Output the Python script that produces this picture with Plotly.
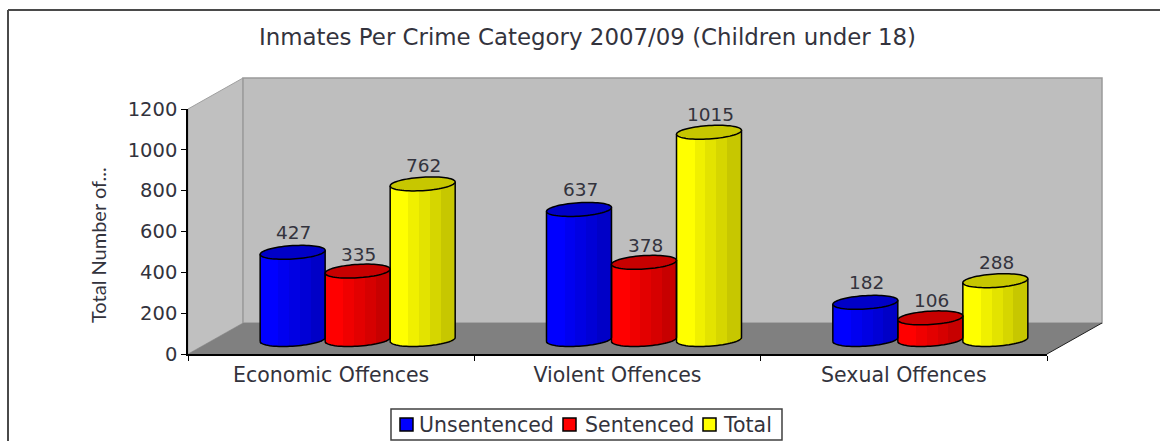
import math
import plotly.graph_objects as go

# ---- data ----
categories = ["Economic Offences", "Violent Offences", "Sexual Offences"]
unsentenced = [427, 637, 182]
sentenced = [335, 378, 106]
total = [762, 1015, 288]
series_names = ["Unsentenced", "Sentenced", "Total"]
y_ticks = [0, 200, 400, 600, 800, 1000, 1200]
title_text = "Inmates Per Crime Category 2007/09 (Children under 18)"
y_title = "Total Number of..."

# ---- style ----
FONT = "DejaVu Sans"
TXT = "#33333d"
rgb = [(0, 0, 255), (255, 0, 0), (255, 255, 0)]
series = [unsentenced, sentenced, total]
label_shift = [20, 17, 18]
L, R, T, B = 188, 1047, 109, 354         # plot rectangle in pixels
W, H = 1160, 441
DX, DY = 55, 31                          # wall depth in pixels
px_x = 3 / (R - L)                       # category units per pixel
px_y = 1200 / (B - T)                    # value units per pixel
slot = 65 * px_x                         # cylinder width
shift = 26.5 * px_x                      # depth shift of the cylinders
floor = 14.5 * px_y                      # depth shift upward
a = slot / 2
b = 6.7 * px_y                           # ellipse half height
tilt = 2.0 * px_y                        # ellipse tilt
N = 18


def shade(c, f):
    return "rgb({},{},{})".format(*[round(v * f) for v in c])


def band(f):
    if f < 0.27:
        return 1.0
    if f < 0.45:
        return 0.94
    if f < 0.62:
        return 0.89
    if f < 0.80:
        return 0.84
    return 0.78


def PX(x):
    return (x - L) / (R - L)


def PY(y):
    return (B - y) / (B - T)


fig = go.Figure()
shapes = []

# walls and floor (decoration)
def poly(pts, fill, line=None, w=1, layer="below"):
    p = "M" + " L".join(f"{PX(x):.5f},{PY(y):.5f}" for x, y in pts) + " Z"
    return dict(type="path", xref="paper", yref="paper", path=p, fillcolor=fill,
                line=dict(color=line or fill, width=w if line else 0), layer=layer)


shapes.append(poly([(L, T), (L + DX, T - DY), (L + DX, B - DY), (L, B)], "#c0c0c0", "#a0a0a0", 1))
shapes.append(poly([(L + DX, T - DY), (R + DX, T - DY), (R + DX, B - DY), (L + DX, B - DY)], "#bebebe", "#9a9a9a", 1.5))
shapes.append(poly([(L, B), (L + DX, B - DY), (R + DX, B - DY), (R, B)], "#808080"))
shapes.append(dict(type="line", xref="paper", yref="paper", x0=PX(R), y0=PY(B), x1=PX(R + DX), y1=PY(B - DY),
                   line=dict(color="#202020", width=1), layer="below"))

# outer frame: top and left only, running off the picture
frame_col = "#4a4a4a"
for x0, y0, x1, y1 in [(8, 10, 1160, 10), (8, 10, 8, 441)]:
    shapes.append(dict(type="line", xref="paper", yref="paper", x0=PX(x0), y0=PY(y0), x1=PX(x1), y1=PY(y1),
                       line=dict(color=frame_col, width=2), layer="below"))

# cylinder bodies: vertical slices through the library's bar scale
for s, (vals, col) in enumerate(zip(series, rgb)):
    start = shift + (s - 1.5) * slot
    for i in range(N):
        uc = -1 + (2 * i + 1) / N
        sq = math.sqrt(max(0, 1 - uc * uc))
        fig.add_bar(
            x=categories,
            y=[v + b * sq for v in vals],
            base=[floor - b * sq + tilt * uc for _ in vals],
            offset=start + i * slot / N,
            width=slot / N,
            marker=dict(color=shade(col, band((i + 0.5) / N)), line=dict(width=0)),
            name=series_names[s],
            showlegend=False,
            hoverinfo="skip",
        )

# cylinder outlines and tops, derived from the values
annotations = []
for s, (vals, col) in enumerate(zip(series, rgb)):
    for c, v in enumerate(vals):
        cx = c + shift + (s - 1) * slot
        top = floor + v
        steps = 36
        arc = []
        for k in range(steps + 1):
            t = math.pi - math.pi * k / steps
            arc.append((cx + a * math.cos(t), floor - b * math.sin(t) + tilt * math.cos(t)))
        body = "M" + " L".join(f"{x:.4f},{y:.3f}" for x, y in arc)
        body += f" L{cx + a:.4f},{top + tilt:.3f} M{cx - a:.4f},{top - tilt:.3f} L{cx - a:.4f},{floor - tilt:.3f}"
        shapes.append(dict(type="path", xref="x", yref="y", path=body, layer="above",
                           line=dict(color="#000000", width=1.5)))
        ell = []
        for k in range(2 * steps):
            t = math.pi * k / steps
            ell.append((cx + a * math.cos(t), top + b * math.sin(t) + tilt * math.cos(t)))
        path = "M" + " L".join(f"{x:.4f},{y:.3f}" for x, y in ell) + " Z"
        shapes.append(dict(type="path", xref="x", yref="y", path=path, layer="above",
                           fillcolor=shade(col, 0.78), line=dict(color="#000000", width=1.5)))
        annotations.append(dict(x=cx, y=top, xref="x", yref="y", text=str(v), showarrow=False,
                                yshift=label_shift[s], xshift=1, yanchor="middle", xanchor="center",
                                font=dict(family=FONT, size=18.5, color=TXT)))

# legend box
shapes.append(poly([(391, 409), (782, 409), (782, 440), (391, 440)], "#ffffff", "#404040", 1.5, "above"))
for name, col, sx, tx in zip(series_names, rgb, [400, 563, 703], [419, 585, 723]):
    shapes.append(poly([(sx, 418), (sx + 13, 418), (sx + 13, 431), (sx, 431)], shade(col, 1), "#000000", 1.5, "above"))
    annotations.append(dict(x=PX(tx), y=PY(424.5), xref="paper", yref="paper", text=name, showarrow=False,
                            xanchor="left", yanchor="middle", xshift=-2,
                            font=dict(family=FONT, size=20.5, color=TXT)))

# rotated axis title
annotations.append(dict(x=PX(98), y=PY(245), xref="paper", yref="paper", text=y_title, showarrow=False,
                        textangle=-90, xanchor="center", yanchor="middle",
                        font=dict(family="Lato", size=20, color=TXT)))

fig.update_layout(
    width=W, height=H, autosize=False,
    margin=dict(l=L, r=W - R, t=T, b=H - B, pad=0),
    paper_bgcolor="#ffffff", plot_bgcolor="rgba(0,0,0,0)",
    barmode="overlay", bargap=0, showlegend=False,
    font=dict(family=FONT, color=TXT),
    title=dict(text=title_text, x=587.5 / W, xanchor="center", y=1 - 37 / H, yanchor="middle",
               font=dict(family=FONT, size=22.9, color=TXT)),
    xaxis=dict(type="category", categoryorder="array", categoryarray=categories, range=[-0.5, 2.5],
               tickson="boundaries", ticks="outside", ticklen=5, tickcolor="#000000", tickwidth=1,
               showgrid=False, zeroline=False, showline=True, linecolor="#000000", linewidth=1.5,
               ticklabelstandoff=2, tickfont=dict(family=FONT, size=20.5, color=TXT)),
    yaxis=dict(range=[0, 1200], tickvals=y_ticks, ticks="outside", ticklen=5, tickcolor="#000000", tickwidth=1,
               showgrid=False, zeroline=False, showline=True, linecolor="#000000", linewidth=1.5,
               tickfont=dict(family=FONT, size=19.5, color=TXT)),
    shapes=shapes, annotations=annotations,
)

fig.write_html("out.html", config=dict(displayModeBar=False),
               post_script="document.body.style.margin='0';document.documentElement.style.overflow='hidden';")
